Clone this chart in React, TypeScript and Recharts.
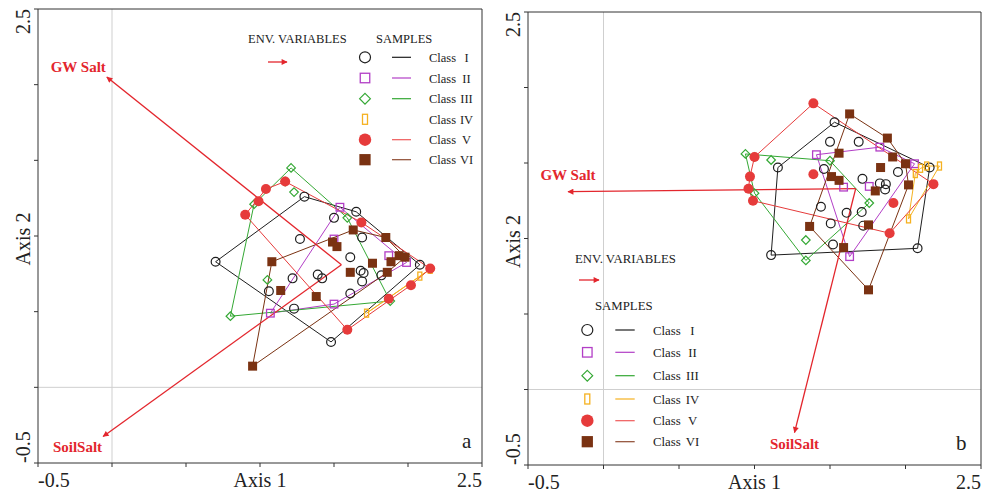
import React from "react";
import { ReferenceLine, Scatter, ScatterChart, XAxis, YAxis } from "recharts";

type Pt = { x: number; y: number; label?: string };

// panel a: sample scores, one list per class
const aClassI = [
  [0.7, 0.83], [1.3, 1.26], [1.65, 1.16], [2.08, 0.81], [1.48, 0.3], [1.5, 1.12], [1.27, 0.98],
  [1.69, 0.99], [1.61, 0.86], [1.68, 0.77], [1.7, 0.755], [1.69, 0.7], [1.82, 0.74], [1.61, 0.62],
  [1.39, 0.745], [1.42, 0.72], [1.22, 0.72], [1.06, 0.635], [1.23, 0.52],
];
const aClassII = [[1.54, 1.19], [1.5, 0.98], [1.87, 0.87], [1.99, 0.825], [1.5, 0.55], [1.07, 0.49]];
const aClassIII = [[1.21, 1.45], [1.17, 1.36], [1.23, 1.29], [0.96, 1.21], [1.59, 1.12], [1.88, 0.57], [0.8, 0.47], [1.05, 0.71]];
const aClassIV = [[2.15, 0.78], [2.08, 0.735], [1.72, 0.49]];
const aClassV = [[0.9, 1.14], [0.99, 1.23], [1.04, 1.31], [1.17, 1.36], [1.685, 1.09], [2.15, 0.785], [2.02, 0.675], [1.87, 0.585], [1.59, 0.38]];
const aClassVI = [
  [1.08, 0.83], [1.63, 1.04], [1.85, 0.99], [1.94, 0.87], [1.98, 0.86], [1.885, 0.83], [1.86, 0.76],
  [1.76, 0.82], [1.61, 0.76], [1.49, 0.96], [1.52, 0.93], [1.14, 0.64], [1.38, 0.6], [0.95, 0.14],
];
// env. variable arrows: [x0, y0, x1, y1]
const aGwSalt = [1.55, 0.81, -0.035, 2.05];
const aSoilSalt = [1.55, 0.81, -0.06, -0.325];

// panel b
const bClassI = [
  [1.53, 1.77], [1.5, 1.64], [1.69, 1.64], [1.155, 1.47], [1.46, 1.46], [1.715, 1.395], [1.83, 1.365],
  [1.87, 1.36], [1.865, 1.325], [1.95, 1.44], [2.16, 1.47], [1.44, 1.21], [1.61, 1.17], [1.71, 1.175],
  [1.505, 1.1], [1.72, 1.085], [1.52, 0.96], [1.11, 0.89], [2.08, 0.935],
];
const bClassII = [[1.41, 1.555], [1.83, 1.605], [2.06, 1.495], [1.59, 1.34], [1.76, 1.345], [1.63, 0.88]];
const bClassIII = [[0.94, 1.56], [1.0, 1.54], [1.11, 1.52], [1.5, 1.515], [1.0, 1.3], [1.76, 1.235], [1.34, 0.99], [1.34, 0.855]];
const bClassIV = [[2.225, 1.48], [2.14, 1.48], [2.1, 1.465], [2.065, 1.43], [2.02, 1.13]];
const bClassV = [[1.39, 1.895], [1.0, 1.54], [0.97, 1.41], [0.96, 1.33], [0.99, 1.25], [1.39, 1.425], [1.92, 1.235], [2.185, 1.36], [1.895, 1.035]];
const bClassVI = [
  [1.63, 1.825], [1.88, 1.665], [1.56, 1.565], [1.915, 1.54], [2.0, 1.495], [1.835, 1.47], [1.51, 1.41],
  [1.56, 1.385], [1.8, 1.315], [2.02, 1.355], [1.365, 1.08], [1.755, 1.09], [1.59, 0.94], [1.755, 0.66],
];
const bGwSalt = [1.67, 1.33, -0.235, 1.31];
const bSoilSalt = [1.67, 1.33, 1.265, -0.285];

const classNames = ["I", "II", "III", "IV", "V", "VI"];
const envNames = ["GW Salt", "SoilSalt"];
const axisTicks = [-0.5, 0, 0.5, 1, 1.5, 2, 2.5];

const SERIF = "'Liberation Serif', 'Times New Roman', serif";
const INK = "#222";
const ARROW = "#e3262d";
const colors = ["#1e1e1e", "#b23ec6", "#34a834", "#f5b120", "#e63b3b", "#7a3212"];
const legendLines = ["#1e1e1e", "#b23ec6", "#34a834", "#f5b120", "#ef5a5a", "#8e4a30"];
const kinds = ["circle", "square", "diamond", "bar", "dot", "block"];

const pts = (a: number[][]): Pt[] => a.map(([x, y]) => ({ x, y }));

function hull(list: Pt[]): Pt[] {
  const s = [...list].sort((p, q) => p.x - q.x || p.y - q.y);
  const cross = (o: Pt, p: Pt, q: Pt) => (p.x - o.x) * (q.y - o.y) - (p.y - o.y) * (q.x - o.x);
  const half = (arr: Pt[]) => {
    const out: Pt[] = [];
    for (const q of arr) {
      while (out.length >= 2 && cross(out[out.length - 2], out[out.length - 1], q) <= 0) out.pop();
      out.push(q);
    }
    return out;
  };
  const lo = half(s);
  const up = half([...s].reverse());
  const h = lo.slice(0, -1).concat(up.slice(0, -1));
  return [...h, h[0]];
}

function marker(kind: string, cx: number, cy: number, c: string, k = 1) {
  switch (kind) {
    case "circle":
      return <circle cx={cx} cy={cy} r={4.4 * k} fill="none" stroke={c} strokeWidth={1.2} />;
    case "square":
      return <rect x={cx - 3.8 * k} y={cy - 3.8 * k} width={7.6 * k} height={7.6 * k} fill="none" stroke={c} strokeWidth={1.3} />;
    case "diamond":
      return <polygon points={`${cx},${cy - 4.3 * k} ${cx + 4.3 * k},${cy} ${cx},${cy + 4.3 * k} ${cx - 4.3 * k},${cy}`} fill="none" stroke={c} strokeWidth={1.2} />;
    case "bar":
      return <rect x={cx - 2 * k} y={cy - 4 * k} width={4 * k} height={8 * k} fill="none" stroke={c} strokeWidth={1.3} />;
    case "dot":
      return <circle cx={cx} cy={cy} r={5 * k} fill={c} />;
    default:
      return <rect x={cx - 4.5 * k} y={cy - 4.5 * k} width={9 * k} height={9 * k} fill={c} />;
  }
}

type LabelPlace = { anchor: "start" | "middle" | "end"; dx: number; dy: number };

function Panel({
  classes,
  arrows,
  places,
  width,
  height,
  margin,
  xAxisHeight,
}: {
  classes: number[][][];
  arrows: number[][];
  places: LabelPlace[];
  width: number;
  height: number;
  margin: { top: number; right: number; bottom: number; left: number };
  xAxisHeight: number;
}) {
  const xTick = (p: any) => {
    const v = p.payload.value;
    const common = { fontFamily: SERIF, fontSize: 20, fill: INK };
    if (v === -0.5) return <text x={p.x} y={p.y + 20} textAnchor="start" {...common}>-0.5</text>;
    if (v === 2.5) return <text x={p.x} y={p.y + 20} textAnchor="end" {...common}>2.5</text>;
    if (v === 1) return <text x={p.x} y={p.y + 20} textAnchor="middle" {...common}>Axis 1</text>;
    return <g />;
  };
  const yTick = (p: any) => {
    const v = p.payload.value;
    const bx = p.x - 4.5;
    const common = { fontFamily: SERIF, fontSize: 20, fill: INK };
    const rot = (y: number) => `rotate(-90, ${bx}, ${y})`;
    if (v === -0.5) return <text x={bx} y={p.y} transform={rot(p.y)} textAnchor="start" {...common}>-0.5</text>;
    if (v === 2.5) return <text x={bx} y={p.y} transform={rot(p.y)} textAnchor="end" {...common}>2.5</text>;
    if (v === 1) return <text x={bx} y={p.y + 3} transform={rot(p.y + 3)} textAnchor="middle" {...common}>Axis 2</text>;
    return <g />;
  };

  return (
    <ScatterChart width={width} height={height} margin={margin}>
      <XAxis
        type="number"
        dataKey="x"
        domain={[-0.5, 2.5]}
        ticks={axisTicks}
        interval={0}
        allowDataOverflow
        height={xAxisHeight}
        tickSize={4}
        tickMargin={0}
        stroke="#333"
        tick={xTick}
      />
      <YAxis
        type="number"
        dataKey="y"
        domain={[-0.5, 2.5]}
        ticks={axisTicks}
        interval={0}
        allowDataOverflow
        width={30}
        tickSize={4}
        tickMargin={0}
        stroke="#333"
        tick={yTick}
      />
      <ReferenceLine x={0} stroke="#cfcfcf" strokeWidth={1} />
      <ReferenceLine y={0} stroke="#cfcfcf" strokeWidth={1} />
      <ReferenceLine x={2.5} stroke="#333" strokeWidth={1} />
      <ReferenceLine y={2.5} stroke="#333" strokeWidth={1} />
      {classes.map((c, i) => (
        <Scatter
          key={"h" + i}
          data={hull(pts(c))}
          line={{ stroke: colors[i], strokeWidth: 1 }}
          lineType="joint"
          shape={() => <g />}
          isAnimationActive={false}
        />
      ))}
      {arrows.map((a, i) => (
        <Scatter
          key={"a" + i}
          data={[{ x: a[0], y: a[1] }, { x: a[2], y: a[3], label: envNames[i] }]}
          line={{ stroke: ARROW, strokeWidth: 1.3, markerEnd: "url(#envHead)" }}
          lineType="joint"
          shape={(p: any) =>
            p.payload && p.payload.label ? (
              <text
                x={p.cx + places[i].dx}
                y={p.cy + places[i].dy}
                textAnchor={places[i].anchor}
                fontFamily={SERIF}
                fontWeight="bold"
                fontSize={15}
                fill={ARROW}
              >
                {p.payload.label}
              </text>
            ) : (
              <g />
            )
          }
          isAnimationActive={false}
        />
      ))}
      {classes.map((c, i) => (
        <Scatter
          key={"p" + i}
          data={pts(c)}
          shape={(p: any) => marker(kinds[i], p.cx, p.cy, colors[i])}
          isAnimationActive={false}
        />
      ))}
    </ScatterChart>
  );
}

function Legend({
  envX, envY, arrowX, arrowY, samplesX, samplesY, rows, markX, lineX, textX, numX, size, showLine,
}: {
  envX: number; envY: number; arrowX: number[]; arrowY: number; samplesX: number; samplesY: number; rows: number[];
  markX: number; lineX: number[]; textX: number; numX: number; size: number; showLine: boolean[];
}) {
  const t = { fontFamily: SERIF, fontSize: size, fill: INK };
  return (
    <g>
      <text x={envX} y={envY} {...t}>ENV. VARIABLES</text>
      <line x1={arrowX[0]} y1={arrowY} x2={arrowX[1]} y2={arrowY} stroke={ARROW} strokeWidth={1.3} markerEnd="url(#envHead)" />
      <text x={samplesX} y={samplesY} {...t}>SAMPLES</text>
      {rows.map((y, i) => (
        <g key={i}>
          {marker(kinds[i], markX, y, colors[i], 1.25)}
          {showLine[i] && <line x1={lineX[0]} y1={y} x2={lineX[1]} y2={y} stroke={legendLines[i]} strokeWidth={1.2} />}
          <text x={textX} y={y + 4.5} {...t}>Class</text>
          <text x={numX} y={y + 4.5} textAnchor="middle" {...t}>{classNames[i]}</text>
        </g>
      ))}
    </g>
  );
}

export default function App() {
  return (
    <div style={{ position: "absolute", left: 0, top: 0, width: 993, height: 494, background: "#fff" }}>
      <svg width={0} height={0} style={{ position: "absolute" }}>
        <defs>
          <marker id="envHead" viewBox="0 0 10 10" refX="9" refY="5" markerWidth="9" markerHeight="6" markerUnits="userSpaceOnUse" orient="auto">
            <path d="M0,0 L10,5 L0,10 z" fill={ARROW} />
          </marker>
        </defs>
      </svg>
      <div style={{ position: "absolute", left: 0, top: 0 }}>
        <Panel
          classes={[aClassI, aClassII, aClassIII, aClassIV, aClassV, aClassVI]}
          arrows={[aGwSalt, aSoilSalt]}
          places={[
            { anchor: "end", dx: -1, dy: -5 },
            { anchor: "end", dx: -1, dy: 15 },
          ]}
          width={490}
          height={494}
          margin={{ top: 9, right: 8, bottom: 0, left: 8 }}
          xAxisHeight={31}
        />
      </div>
      <div style={{ position: "absolute", left: 495, top: 0 }}>
        <Panel
          classes={[bClassI, bClassII, bClassIII, bClassIV, bClassV, bClassVI]}
          arrows={[bGwSalt, bSoilSalt]}
          places={[
            { anchor: "middle", dx: 0, dy: -12 },
            { anchor: "middle", dx: 0, dy: 16 },
          ]}
          width={494}
          height={494}
          margin={{ top: 12, right: 8, bottom: 0, left: 3 }}
          xAxisHeight={29}
        />
      </div>
      <svg width={993} height={494} style={{ position: "absolute", left: 0, top: 0, pointerEvents: "none" }}>
        <Legend
          envX={248} envY={43} arrowX={[268, 287]} arrowY={62} samplesX={376} samplesY={43}
          rows={[57.3, 78, 98.7, 119.3, 139.7, 159.7]}
          markX={365} lineX={[392, 411]} textX={429} numX={466.5} size={12.5}
          showLine={[true, true, true, false, true, true]}
        />
        <text x={462} y={448} fontFamily={SERIF} fontSize={21} fill={INK}>a</text>
        <Legend
          envX={575} envY={263} arrowX={[579, 599]} arrowY={280} samplesX={595} samplesY={310}
          rows={[330, 352.3, 375.7, 399, 420.7, 441.7]}
          markX={587.3} lineX={[615.3, 634.7]} textX={653} numX={692.5} size={12.8}
          showLine={[true, true, true, true, true, true]}
        />
        <text x={956} y={450} fontFamily={SERIF} fontSize={21} fill={INK}>b</text>
      </svg>
    </div>
  );
}
